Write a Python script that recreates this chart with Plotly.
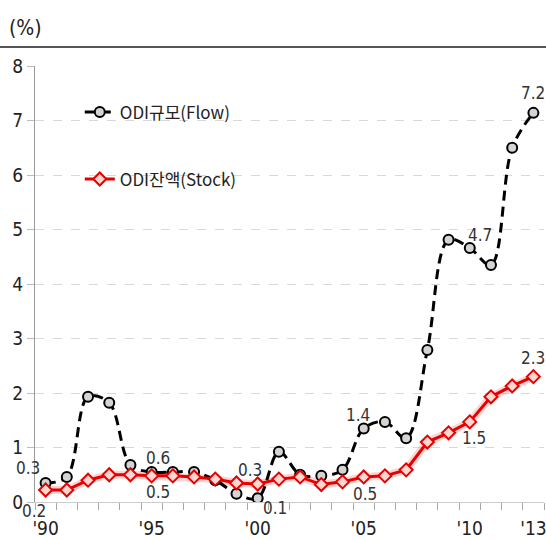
import plotly.graph_objects as go

years = list(range(1990, 2014))
flow = [0.35, 0.46, 1.93, 1.82, 0.68, 0.55, 0.55, 0.55, 0.40, 0.15, 0.07, 0.92,
        0.50, 0.48, 0.59, 1.35, 1.47, 1.17, 2.79, 4.81, 4.66, 4.35, 6.50, 7.14]
stock = [0.22, 0.22, 0.40, 0.50, 0.50, 0.48, 0.48, 0.46, 0.42, 0.35, 0.33, 0.42,
         0.46, 0.32, 0.37, 0.46, 0.48, 0.59, 1.10, 1.27, 1.47, 1.93, 2.13, 2.30]
tick_years = [1990, 1995, 2000, 2005, 2010, 2013]
tick_text = ["'90", "'95", "'00", "'05", "'10", "'13"]
y_ticks = [0, 1, 2, 3, 4, 5, 6, 7, 8]

# data labels: (year, text, dx, dy)
flow_labels = [(1990, "0.3", -18, -15), (1995, "0.6", 6, -14), (2000, "0.1", 17, 10),
               (2005, "1.4", -6, -13), (2010, "4.7", 10, -13), (2013, "7.2", 0, -20)]
stock_labels = [(1990, "0.2", -12, 21), (1995, "0.5", 6, 16), (2000, "0.3", -8, -14),
                (2005, "0.5", 1, 17), (2010, "1.5", 4, 16), (2013, "2.3", 0, -19)]

FONT = "DejaVu Sans Condensed, Noto Sans CJK KR, sans-serif"
KFONT = "Noto Sans CJK KR, sans-serif"

fig = go.Figure()
# glow under the stock line
fig.add_trace(go.Scatter(x=years, y=stock, mode="lines", showlegend=False, hoverinfo="skip",
                         line=dict(color="rgba(255,80,80,0.25)", width=8)))
fig.add_trace(go.Scatter(x=years, y=flow, mode="lines+markers", name="ODI규모(Flow)",
                         legendgroup="a",
                         line=dict(color="black", width=3, dash="10px,6px", shape="spline", smoothing=1.0),
                         marker=dict(symbol="circle", size=10, color="#d4d4d4",
                                     line=dict(color="black", width=2))))
fig.add_trace(go.Scatter(x=years, y=stock, mode="lines+markers", name="ODI잔액(Stock)",
                         legendgroup="b",
                         line=dict(color="#e60000", width=3),
                         marker=dict(symbol="diamond", size=10, color="#ffd6d0",
                                     line=dict(color="#e60000", width=2))))

ann = []
for yr, t, dx, dy in flow_labels:
    ann.append(dict(x=yr, y=flow[years.index(yr)], text=t, showarrow=False,
                    xshift=dx, yshift=-dy, font=dict(size=17, color="#333333", family=FONT)))
for yr, t, dx, dy in stock_labels:
    ann.append(dict(x=yr, y=stock[years.index(yr)], text=t, showarrow=False,
                    xshift=dx, yshift=-dy, font=dict(size=17, color="#333333", family=FONT)))
ann.append(dict(xref="paper", yref="paper", x=-0.055, y=(502 - 28) / 436, xanchor="left",
                yanchor="middle", text="(%)", showarrow=False,
                font=dict(size=21, color="#222222", family=FONT)))

top_line = (502 - 47) / 436
fig.update_layout(
    width=546, height=540,
    margin=dict(l=35, r=2, t=66, b=38, autoexpand=False),
    paper_bgcolor="white", plot_bgcolor="white",
    font=dict(family=FONT, size=18, color="#222222"),
    annotations=ann,
    legend=dict(x=0.088, y=0.935, xanchor="left", yanchor="top", bgcolor="rgba(0,0,0,0)",
                itemwidth=30, tracegroupgap=42,
                font=dict(size=17, color="#222222", family=KFONT)),
    shapes=[dict(type="line", xref="paper", yref="paper", x0=-0.07, x1=1.01,
                 y0=top_line, y1=top_line, line=dict(color="#555555", width=2))],
)

fig.update_xaxes(range=[1989.5, 2013.5], tickvals=tick_years, ticktext=tick_text,
                 ticks="", showgrid=False, zeroline=False, showline=True, automargin=False,
                 ticklabeloverflow="allow", ticklabelstandoff=9,
                 linecolor="#cccccc", linewidth=1,
                 tickfont=dict(size=19, color="#222222"),
                 minor=dict(tickvals=[y + 0.5 for y in range(1989, 2014)], ticks="outside",
                            ticklen=7, tickcolor="#aaaaaa", showgrid=False))
fig.update_yaxes(range=[0, 8], tickvals=y_ticks, showgrid=True, gridcolor="#d9d9d9",
                 griddash="dash", zeroline=False, showline=True, linecolor="#999999",
                 automargin=False, ticks="outside", ticklen=7, tickcolor="#bbbbbb",
                 tickfont=dict(size=19, color="#222222"))

fig.write_html("out.html", config={"displayModeBar": False},
               post_script="document.body.style.margin='0';document.body.style.overflow='hidden';")
